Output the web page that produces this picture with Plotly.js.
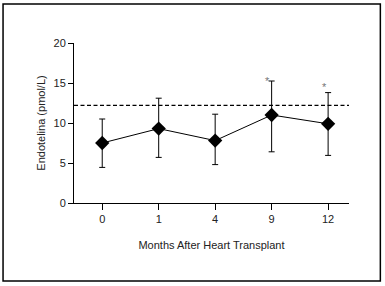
<!DOCTYPE html>
<html><head><meta charset="utf-8">
<script src="https://cdn.plot.ly/plotly-3.0.1.min.js"></script>
<style>html,body{margin:0;padding:0;background:#fff}#chart{width:385px;height:286px}</style>
</head><body><div id="chart"></div>
<script>
var months = ['0', '1', '4', '9', '12'];
var endotelina = [7.5, 9.3, 7.8, 11.0, 9.9];
var errUpper = [3.0, 3.8, 3.3, 4.25, 3.9];
var errLower = [3.05, 3.6, 3.0, 4.6, 3.95];
var referenceLevel = 12.2;
var significant = ['9', '12'];
var sigY = [15.5, 14.8];
var sigLabel = '*';

var font = {family: '"Liberation Sans Narrow", "Liberation Sans", Arial, sans-serif', size: 11, color: '#222'};

var trace = {
  x: months, y: endotelina, type: 'scatter', mode: 'lines+markers',
  line: {color: '#000', width: 1},
  marker: {symbol: 'diamond', size: 11, color: '#000'},
  error_y: {type: 'data', symmetric: false, array: errUpper, arrayminus: errLower,
            color: '#000', thickness: 1, width: 3},
  hoverinfo: 'none'
};

var annotations = significant.map(function (m, k) {
  return {x: months.indexOf(m), y: sigY[k], xref: 'x', yref: 'y', text: sigLabel, xshift: -4,
          showarrow: false, yanchor: 'middle', yshift: -2,
          font: {family: font.family, size: 11, color: '#777'}};
});

var layout = {
  width: 385, height: 286,
  margin: {l: 74, r: 36, t: 43, b: 83},
  paper_bgcolor: '#fff', plot_bgcolor: '#fff',
  showlegend: false, font: font,
  xaxis: {type: 'category', range: [-0.5, 4.37], showline: true, linecolor: '#000', linewidth: 1,
          ticks: 'outside', ticklen: 6, tickcolor: '#000', showgrid: false, zeroline: false,
          tickfont: font, title: {text: 'Months After Heart Transplant', font: font, standoff: 17}},
  yaxis: {range: [0, 20], dtick: 5, showline: true, linecolor: '#000', linewidth: 1,
          ticks: 'outside', ticklen: 5, tickcolor: '#000', showgrid: false, zeroline: false,
          tickfont: font, title: {text: 'Endotelina (pmol/L)', font: font, standoff: 5}},
  shapes: [
    {type: 'line', xref: 'paper', yref: 'y', x0: 0, x1: 1, y0: referenceLevel, y1: referenceLevel,
     line: {color: '#000', width: 1.1, dash: '4px,2.5px'}},
    {type: 'rect', xref: 'paper', yref: 'paper', x0: -0.258, x1: 1.114, y0: -0.487, y1: 1.243,
     line: {color: '#000', width: 1.5}}
  ],
  annotations: annotations
};

Plotly.newPlot('chart', [trace], layout, {staticPlot: true, displayModeBar: false});
</script></body></html>
